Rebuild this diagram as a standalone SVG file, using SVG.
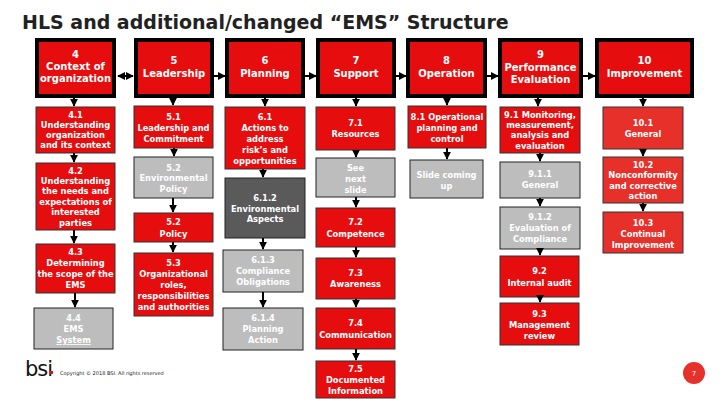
<svg xmlns="http://www.w3.org/2000/svg" width="720" height="405" viewBox="0 0 720 405">
<defs>
<marker id="ah" viewBox="0 0 10 10" refX="9" refY="5" markerWidth="4" markerHeight="4" orient="auto-start-reverse"><path d="M0,0 L10,5 L0,10 z" fill="#000"/></marker>
<style>
.top{fill:#e50d0d;stroke:#000;stroke-width:4}
.r{fill:#e50d0d;stroke:#333;stroke-width:1}
.r10{fill:#e8302a;stroke:#333;stroke-width:1}
.g{fill:#bdbdbd;stroke:#222;stroke-width:1}
.dg{fill:#5a5a5a;stroke:#222;stroke-width:1}
text{font-family:"DejaVu Sans",Verdana,sans-serif;font-weight:bold;fill:#fff;text-anchor:middle}
.t{font-size:10px}
.s{font-size:8.3px}
.c line{stroke:#000;stroke-width:2;marker-end:url(#ah)}
</style>
</defs>
<rect width="720" height="405" fill="#fff"/>
<text x="22" y="29" style="font-family:'DejaVu Sans',Verdana,sans-serif;font-size:19px;fill:#222;text-anchor:start">HLS and additional/changed “EMS” Structure</text>

<g id="n4"><rect class="top" x="37" y="40" width="77" height="56"/><text class="t" x="75.5" y="58">4</text><text class="t" x="75.5" y="70">Context of</text><text class="t" x="75.5" y="82">organization</text></g>
<g id="n5"><rect class="top" x="136" y="40" width="76" height="56"/><text class="t" x="174" y="64">5</text><text class="t" x="174" y="77">Leadership</text></g>
<g id="n6"><rect class="top" x="227" y="40" width="76" height="56"/><text class="t" x="265" y="64">6</text><text class="t" x="265" y="77">Planning</text></g>
<g id="n7"><rect class="top" x="318" y="40" width="76" height="56"/><text class="t" x="356" y="64">7</text><text class="t" x="356" y="77">Support</text></g>
<g id="n8"><rect class="top" x="408" y="40" width="77" height="56"/><text class="t" x="446.5" y="64">8</text><text class="t" x="446.5" y="77">Operation</text></g>
<g id="n9"><rect class="top" x="500" y="40" width="81" height="56"/><text class="t" x="540.5" y="58">9</text><text class="t" x="540.5" y="71">Performance</text><text class="t" x="540.5" y="83">Evaluation</text></g>
<g id="n10"><rect class="top" x="597" y="40" width="95" height="56"/><text class="t" x="644.5" y="64">10</text><text class="t" x="644.5" y="77">Improvement</text></g>

<g id="n41"><rect class="r" x="36" y="107" width="79" height="46"/><text class="s" x="75.5" y="118">4.1</text><text class="s" x="75.5" y="128">Understanding</text><text class="s" x="75.5" y="138">organization</text><text class="s" x="75.5" y="148">and its context</text></g>
<g id="n42"><rect class="r" x="36" y="163" width="79" height="67"/><text class="s" x="75.5" y="174">4.2</text><text class="s" x="75.5" y="184">Understanding</text><text class="s" x="75.5" y="194">the needs and</text><text class="s" x="75.5" y="205">expectations of</text><text class="s" x="75.5" y="215">interested</text><text class="s" x="75.5" y="226">parties</text></g>
<g id="n43"><rect class="r" x="36" y="244" width="79" height="49"/><text class="s" x="75.5" y="255">4.3</text><text class="s" x="75.5" y="266">Determining</text><text class="s" x="75.5" y="277">the scope of the</text><text class="s" x="75.5" y="288">EMS</text></g>
<g id="n44"><rect class="g" x="34" y="308" width="79" height="41"/><text class="s" x="73.5" y="321">4.4</text><text class="s" x="73.5" y="332">EMS</text><text class="s" x="73.5" y="343" text-decoration="underline">System</text></g>

<g id="n51"><rect class="r" x="134" y="106" width="79" height="42"/><text class="s" x="173.5" y="120">5.1</text><text class="s" x="173.5" y="131">Leadership and</text><text class="s" x="173.5" y="142">Commitment</text></g>
<g id="n52e"><rect class="g" x="134" y="157" width="79" height="41"/><text class="s" x="173.5" y="171">5.2</text><text class="s" x="173.5" y="181">Environmental</text><text class="s" x="173.5" y="192">Policy</text></g>
<g id="n52"><rect class="r" x="134" y="213" width="79" height="29"/><text class="s" x="173.5" y="225">5.2</text><text class="s" x="173.5" y="237">Policy</text></g>
<g id="n53"><rect class="r" x="134" y="253" width="79" height="63"/><text class="s" x="173.5" y="266">5.3</text><text class="s" x="173.5" y="277">Organizational</text><text class="s" x="173.5" y="288">roles,</text><text class="s" x="173.5" y="299">responsibilities</text><text class="s" x="173.5" y="310">and authorities</text></g>

<g id="n61"><rect class="r" x="225" y="107" width="80" height="62"/><text class="s" x="265" y="120">6.1</text><text class="s" x="265" y="131">Actions to</text><text class="s" x="265" y="142">address</text><text class="s" x="265" y="153">risk’s and</text><text class="s" x="265" y="164">opportunities</text></g>
<g id="n612"><rect class="dg" x="225" y="178" width="80" height="60"/><text class="s" x="265" y="201">6.1.2</text><text class="s" x="265" y="212">Environmental</text><text class="s" x="265" y="222">Aspects</text></g>
<g id="n613"><rect class="g" x="223" y="250" width="80" height="42"/><text class="s" x="263" y="263">6.1.3</text><text class="s" x="263" y="274">Compliance</text><text class="s" x="263" y="285">Obligations</text></g>
<g id="n614"><rect class="g" x="223" y="308" width="80" height="42"/><text class="s" x="263" y="321">6.1.4</text><text class="s" x="263" y="332">Planning</text><text class="s" x="263" y="343">Action</text></g>

<g id="n71"><rect class="r" x="316" y="107" width="79" height="43"/><text class="s" x="355.5" y="126">7.1</text><text class="s" x="355.5" y="137">Resources</text></g>
<g id="nsee"><rect class="g" x="316" y="158" width="79" height="39"/><text class="s" x="355.5" y="171">See</text><text class="s" x="355.5" y="182">next</text><text class="s" x="355.5" y="193">slide</text></g>
<g id="n72"><rect class="r" x="316" y="208" width="79" height="39"/><text class="s" x="355.5" y="225">7.2</text><text class="s" x="355.5" y="237">Competence</text></g>
<g id="n73"><rect class="r" x="316" y="258" width="79" height="41"/><text class="s" x="355.5" y="276">7.3</text><text class="s" x="355.5" y="287">Awareness</text></g>
<g id="n74"><rect class="r" x="316" y="308" width="79" height="41"/><text class="s" x="355.5" y="326">7.4</text><text class="s" x="355.5" y="338">Communication</text></g>
<g id="n75"><rect class="r" x="316" y="361" width="79" height="37"/><text class="s" x="355.5" y="372">7.5</text><text class="s" x="355.5" y="383">Documented</text><text class="s" x="355.5" y="394">Information</text></g>

<g id="n81"><rect class="r" x="408" y="106" width="78" height="42"/><text class="s" x="447" y="120">8.1 Operational</text><text class="s" x="447" y="131">planning and</text><text class="s" x="447" y="142">control</text></g>
<g id="nslide"><rect class="g" x="410" y="160" width="73" height="38"/><text class="s" x="446.5" y="178">Slide coming</text><text class="s" x="446.5" y="189">up</text></g>

<g id="n91"><rect class="r" x="500" y="107" width="80" height="46"/><text class="s" x="540" y="118">9.1 Monitoring,</text><text class="s" x="540" y="128">measurement,</text><text class="s" x="540" y="138">analysis and</text><text class="s" x="540" y="149">evaluation</text></g>
<g id="n911"><rect class="g" x="500" y="162" width="80" height="36"/><text class="s" x="540" y="177">9.1.1</text><text class="s" x="540" y="188">General</text></g>
<g id="n912"><rect class="g" x="500" y="207" width="80" height="42"/><text class="s" x="540" y="220">9.1.2</text><text class="s" x="540" y="231">Evaluation of</text><text class="s" x="540" y="242">Compliance</text></g>
<g id="n92"><rect class="r" x="500" y="256" width="79" height="41"/><text class="s" x="539.5" y="274">9.2</text><text class="s" x="539.5" y="286">Internal audit</text></g>
<g id="n93"><rect class="r" x="500" y="303" width="79" height="42"/><text class="s" x="539.5" y="317">9.3</text><text class="s" x="539.5" y="328">Management</text><text class="s" x="539.5" y="339">review</text></g>

<g id="n101"><rect class="r10" x="603" y="107" width="80" height="42"/><text class="s" x="643" y="126">10.1</text><text class="s" x="643" y="137">General</text></g>
<g id="n102"><rect class="r10" x="603" y="157" width="80" height="46"/><text class="s" x="643" y="168">10.2</text><text class="s" x="643" y="178">Nonconformity</text><text class="s" x="643" y="189">and corrective</text><text class="s" x="643" y="199">action</text></g>
<g id="n103"><rect class="r10" x="603" y="212" width="80" height="41"/><text class="s" x="643" y="226">10.3</text><text class="s" x="643" y="237">Continual</text><text class="s" x="643" y="248">Improvement</text></g>

<g id="connectors" class="c">
<line x1="118" y1="76" x2="133" y2="76" marker-start="url(#ah)"/>
<line x1="214" y1="76" x2="225" y2="76"/>
<line x1="305" y1="76" x2="316" y2="76"/>
<line x1="396" y1="76" x2="406" y2="76"/>
<line x1="487" y1="76" x2="498" y2="76"/>
<line x1="583" y1="76" x2="595" y2="76"/>
<line x1="74" y1="98" x2="74" y2="106"/>
<line x1="74" y1="153" x2="74" y2="162"/>
<line x1="74" y1="230" x2="74" y2="243"/>
<line x1="75" y1="293" x2="75" y2="307"/>
<line x1="173" y1="98" x2="173" y2="105"/>
<line x1="174" y1="148" x2="174" y2="156"/>
<line x1="173" y1="198" x2="173" y2="212"/>
<line x1="173" y1="242" x2="173" y2="252"/>
<line x1="265" y1="98" x2="265" y2="106"/>
<line x1="263" y1="169" x2="263" y2="177"/>
<line x1="263" y1="238" x2="263" y2="249"/>
<line x1="263" y1="292" x2="263" y2="307"/>
<line x1="356" y1="98" x2="356" y2="106"/>
<line x1="356" y1="150" x2="356" y2="157"/>
<line x1="356" y1="197" x2="356" y2="207"/>
<line x1="356" y1="247" x2="356" y2="257"/>
<line x1="356" y1="299" x2="356" y2="307"/>
<line x1="356" y1="349" x2="356" y2="360"/>
<line x1="447" y1="98" x2="447" y2="105"/>
<line x1="447" y1="148" x2="447" y2="159"/>
<line x1="538" y1="98" x2="538" y2="106"/>
<line x1="540" y1="153" x2="540" y2="161"/>
<line x1="540" y1="198" x2="540" y2="206"/>
<line x1="540" y1="249" x2="540" y2="255"/>
<line x1="540" y1="297" x2="540" y2="302"/>
<line x1="643" y1="98" x2="643" y2="106"/>
<line x1="643" y1="149" x2="643" y2="156"/>
<line x1="643" y1="203" x2="643" y2="211"/>
</g>

<text x="25" y="376" style="font-family:'DejaVu Sans',sans-serif;font-size:21px;font-weight:normal;fill:#111;text-anchor:start;letter-spacing:-1px">bsi</text>
<rect x="50" y="371" width="3" height="3" fill="#e50d0d"/>
<text x="60" y="375" style="font-size:5px;fill:#222;text-anchor:start;font-weight:normal">Copyright © 2018 BSI. All rights reserved</text>
<circle cx="694" cy="373" r="11" fill="#e8302a"/>
<text x="694" y="376" style="font-size:7px;font-weight:normal">7</text>
</svg>
